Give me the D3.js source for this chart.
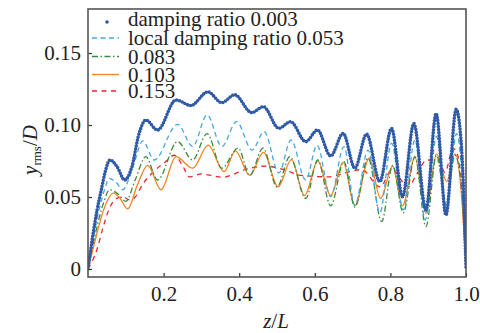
<!DOCTYPE html>
<html>
<head>
<meta charset="utf-8">
<script src="https://cdn.jsdelivr.net/npm/d3@7"></script>
<style>
  body { margin: 0; background: #fff; }
  svg text { font-family: "Liberation Serif", "Times New Roman", serif; fill: #222; }
</style>
</head>
<body>
<div id="chart"></div>
<script>
// z/L positions and y_rms/D values
const z003 = [0, 0.012, 0.024, 0.036, 0.046, 0.058, 0.077, 0.097, 0.115, 0.135, 0.153, 0.184, 0.233, 0.272, 0.317, 0.354, 0.388, 0.433, 0.464, 0.505, 0.536, 0.576, 0.607, 0.642, 0.675, 0.706, 0.737, 0.772, 0.803, 0.832, 0.862, 0.894, 0.921, 0.947, 0.974, 0.988, 1.0];
const y003 = [0, 0.022, 0.041, 0.056, 0.068, 0.0757, 0.071, 0.0618, 0.07, 0.094, 0.1035, 0.0965, 0.1174, 0.1135, 0.123, 0.1155, 0.121, 0.1086, 0.1127, 0.0977, 0.1023, 0.0884, 0.0965, 0.0785, 0.0942, 0.07, 0.0937, 0.0607, 0.0977, 0.0502, 0.101, 0.041, 0.108, 0.0375, 0.111, 0.085, 0];

const z053 = [0, 0.012, 0.024, 0.036, 0.046, 0.056, 0.075, 0.092, 0.12, 0.145, 0.175, 0.237, 0.277, 0.315, 0.354, 0.393, 0.434, 0.466, 0.505, 0.537, 0.576, 0.606, 0.642, 0.677, 0.706, 0.741, 0.772, 0.803, 0.834, 0.865, 0.892, 0.922, 0.949, 0.975, 0.99, 1.0];
const y053 = [0, 0.019, 0.035, 0.048, 0.057, 0.063, 0.06, 0.055, 0.072, 0.089, 0.0757, 0.1005, 0.085, 0.107, 0.085, 0.1023, 0.0826, 0.0954, 0.0667, 0.0896, 0.0618, 0.086, 0.0502, 0.085, 0.0444, 0.0826, 0.0389, 0.0874, 0.041, 0.0896, 0.034, 0.092, 0.043, 0.094, 0.06, 0];

const z083 = [0, 0.02, 0.04, 0.057, 0.08, 0.1, 0.125, 0.153, 0.184, 0.237, 0.277, 0.315, 0.354, 0.397, 0.428, 0.463, 0.5, 0.534, 0.576, 0.608, 0.642, 0.677, 0.706, 0.741, 0.777, 0.806, 0.834, 0.865, 0.894, 0.922, 0.947, 0.971, 0.99, 1.0];
const y083 = [0, 0.025, 0.045, 0.055, 0.052, 0.047, 0.062, 0.078, 0.0618, 0.0885, 0.0757, 0.094, 0.07, 0.084, 0.065, 0.084, 0.057, 0.078, 0.049, 0.0757, 0.0438, 0.0745, 0.043, 0.077, 0.0329, 0.072, 0.039, 0.078, 0.0294, 0.079, 0.0458, 0.079, 0.05, 0];

const z103 = [0, 0.02, 0.04, 0.067, 0.085, 0.105, 0.13, 0.158, 0.193, 0.233, 0.277, 0.318, 0.36, 0.39, 0.428, 0.464, 0.503, 0.538, 0.573, 0.608, 0.642, 0.675, 0.706, 0.744, 0.774, 0.806, 0.832, 0.865, 0.894, 0.922, 0.949, 0.971, 0.99, 1.0];
const y103 = [0, 0.021, 0.04, 0.0527, 0.049, 0.0417, 0.058, 0.072, 0.055, 0.078, 0.07, 0.086, 0.0676, 0.082, 0.065, 0.081, 0.057, 0.076, 0.051, 0.075, 0.051, 0.074, 0.044, 0.077, 0.049, 0.0715, 0.0438, 0.0775, 0.0387, 0.08, 0.0607, 0.08, 0.045, 0];

const z153 = [0, 0.023, 0.04, 0.058, 0.076, 0.093, 0.11, 0.125, 0.145, 0.175, 0.205, 0.228, 0.25, 0.268, 0.3, 0.325, 0.355, 0.42, 0.47, 0.52, 0.565, 0.64, 0.67, 0.724, 0.773, 0.804, 0.847, 0.87, 0.896, 0.93, 0.944, 0.966, 0.978, 0.99, 1.0];
const y153 = [0, 0.013, 0.029, 0.043, 0.049, 0.05, 0.048, 0.05, 0.059, 0.068, 0.0745, 0.079, 0.072, 0.064, 0.066, 0.065, 0.0637, 0.0694, 0.0715, 0.0688, 0.065, 0.064, 0.066, 0.069, 0.057, 0.069, 0.057, 0.066, 0.0757, 0.0745, 0.067, 0.0838, 0.079, 0.048, 0];

const seriesNames = ["damping ratio 0.003", "local damping ratio 0.053", "0.083", "0.103", "0.153"];
const xTicks = [0.2, 0.4, 0.6, 0.8, 1.0];
const yTicks = [0, 0.05, 0.10, 0.15];
const yTickLabels = ["0", "0.05", "0.10", "0.15"];

const width = 480, height = 333;
const plotLeft = 88, plotRight = 466, plotTop = 9, plotBottom = 277;

const series = [
  { name: seriesNames[0], z: z003, y: y003, color: "#2f5aa8", kind: "dots" },
  { name: seriesNames[1], z: z053, y: y053, color: "#45a6df", dash: "5,3.5" },
  { name: seriesNames[2], z: z083, y: y083, color: "#3b8a3e", dash: "6,2.5,1.5,2.5" },
  { name: seriesNames[3], z: z103, y: y103, color: "#f5821f", dash: null },
  { name: seriesNames[4], z: z153, y: y153, color: "#e8262b", dash: "5,4.5" }
];

const svg = d3.select("#chart").append("svg")
  .attr("width", width)
  .attr("height", height);

const x = d3.scaleLinear().domain([0, 1]).range([plotLeft, plotRight]);
// 0 sits at y=269, 0.05 every 72px
const y = d3.scaleLinear().domain([-8 / 1440, 260 / 1440]).range([plotBottom, plotTop]);

svg.append("defs").append("clipPath").attr("id", "plot")
  .append("rect")
  .attr("x", plotLeft).attr("y", plotTop)
  .attr("width", plotRight - plotLeft).attr("height", plotBottom - plotTop);

const line = d3.line()
  .x(d => x(d[0]))
  .y(d => y(d[1]))
  .curve(d3.curveMonotoneX);

const plot = svg.append("g").attr("clip-path", "url(#plot)");

// draw back to front: red, orange, green, light blue, blue dots
series.slice().reverse().forEach(s => {
  const pts = s.z.map((v, i) => [v, s.y[i]]);
  const p = plot.append("path")
    .attr("d", line(pts))
    .attr("fill", "none")
    .attr("stroke", s.color);
  if (s.kind === "dots") {
    p.attr("stroke-width", 3.6)
      .attr("stroke-linecap", "round")
      .attr("stroke-dasharray", "0,3");
  } else {
    p.attr("stroke-width", 1.3);
    if (s.dash) p.attr("stroke-dasharray", s.dash);
  }
});

// axes with inward ticks
const xAxis = d3.axisBottom(x)
  .tickValues(xTicks)
  .tickFormat(d3.format(".1f"))
  .tickSize(-4)
  .tickPadding(9);

const yAxis = d3.axisLeft(y)
  .tickValues(yTicks)
  .tickFormat((d, i) => yTickLabels[i])
  .tickSize(-4)
  .tickPadding(7);

const gx = svg.append("g")
  .attr("transform", "translate(0," + plotBottom + ")")
  .call(xAxis);
const gy = svg.append("g")
  .attr("transform", "translate(" + plotLeft + ",0)")
  .call(yAxis);

[gx, gy].forEach(g => {
  g.select(".domain").remove();
  g.selectAll(".tick line").attr("stroke", "#333").attr("stroke-width", 1.2);
  g.selectAll(".tick text")
    .style("font-size", "21px")
    .style("font-family", "'Liberation Serif', 'Times New Roman', serif")
    .attr("fill", "#222");
});

svg.append("rect")
  .attr("x", plotLeft).attr("y", plotTop)
  .attr("width", plotRight - plotLeft).attr("height", plotBottom - plotTop)
  .attr("fill", "none")
  .attr("stroke", "#555")
  .attr("stroke-width", 1.6);

// legend
const legend = svg.append("g");
const rowY = [19, 38, 56.5, 74.5, 91];
series.forEach((s, i) => {
  const cy = rowY[i];
  if (s.kind === "dots") {
    legend.append("circle")
      .attr("cx", 107).attr("cy", cy + 3)
      .attr("r", 1.8)
      .attr("fill", s.color);
  } else {
    const l = legend.append("line")
      .attr("x1", 92).attr("x2", 119)
      .attr("y1", cy).attr("y2", cy)
      .attr("stroke", s.color)
      .attr("stroke-width", 1.3);
    if (s.dash) l.attr("stroke-dasharray", s.dash);
  }
  legend.append("text")
    .attr("x", 128).attr("y", cy + 7)
    .style("font-size", "21px")
    .text(s.name);
});

// axis titles
const yl = svg.append("text")
  .attr("transform", "translate(37,150) rotate(-90)")
  .attr("text-anchor", "middle")
  .style("font-size", "21px");
yl.append("tspan").style("font-style", "italic").text("y");
yl.append("tspan").attr("dy", 4).style("font-size", "13px").text("rms");
yl.append("tspan").attr("dy", -4).text("/");
yl.append("tspan").style("font-style", "italic").text("D");

const xl = svg.append("text")
  .attr("x", 276).attr("y", 328)
  .attr("text-anchor", "middle")
  .style("font-size", "21px");
xl.append("tspan").style("font-style", "italic").text("z");
xl.append("tspan").text("/");
xl.append("tspan").style("font-style", "italic").text("L");
</script>
</body>
</html>
